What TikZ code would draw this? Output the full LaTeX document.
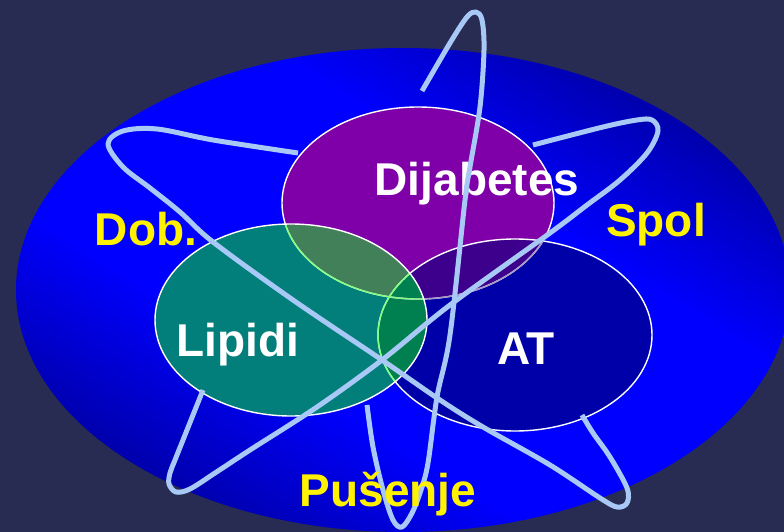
\documentclass[tikz,border=0pt]{standalone}
\usepackage{fontspec}
\setmainfont{Liberation Sans}
\begin{document}
\begin{tikzpicture}[x=1pt,y=-1pt,
  orbit/.style={draw=loopc, line width=5pt, line cap=butt, line join=round},
  whitelab/.style={text=white, font=\bfseries\fontsize{46}{46}\selectfont, anchor=base, inner sep=0pt},
  yellowlab/.style={text=yellow, font=\bfseries\fontsize{46}{46}\selectfont, anchor=base, inner sep=0pt},
  rim/.style={line width=1.4pt}]
\definecolor{bgc}{HTML}{282B52}
\definecolor{brightb}{HTML}{0000FF}
\definecolor{darkb}{HTML}{000090}
\definecolor{dcol}{HTML}{7F00A8}
\definecolor{lcol}{HTML}{027F7A}
\definecolor{acol}{HTML}{0000A8}
\definecolor{dlcol}{HTML}{42805A}
\definecolor{dacol}{HTML}{3D008C}
\definecolor{lacol}{HTML}{008050}
\definecolor{greenrim}{HTML}{80FF80}
\definecolor{greyrim}{HTML}{A898C8}
\definecolor{loopc}{HTML}{A8C8F5}
\pgfdeclareverticalshading{bandshade}{100bp}{color(0bp)=(darkb); color(29bp)=(darkb); color(42bp)=(brightb); color(58bp)=(brightb); color(71bp)=(darkb); color(100bp)=(darkb)}
\useasboundingbox (0,0) rectangle (784,532);
\clip (0,0) rectangle (784,532);
\fill[bgc] (0,0) rectangle (784,532);
% big ellipse
\begin{scope}
  \clip (403,290) ellipse [x radius=387pt, y radius=242pt];
  \shade[shading=bandshade, transform canvas={rotate around={-32:(403,290)}}]
    (-297,-120) rectangle (1103,700);
\end{scope}
% Venn fills
\fill[dcol] (418,203) ellipse [x radius=136pt, y radius=96pt];
\fill[acol] (515,335) ellipse [x radius=137pt, y radius=96pt];
\fill[lcol] (291,320) ellipse [x radius=136pt, y radius=96pt];
\begin{scope}
  \clip (418,203) ellipse [x radius=136pt, y radius=96pt];
  \fill[dacol] (515,335) ellipse [x radius=137pt, y radius=96pt];
  \fill[dlcol] (291,320) ellipse [x radius=136pt, y radius=96pt];
\end{scope}
\begin{scope}
  \clip (515,335) ellipse [x radius=137pt, y radius=96pt];
  \fill[lacol] (291,320) ellipse [x radius=136pt, y radius=96pt];
\end{scope}
% Venn rims
\draw[white, rim] (418,203) ellipse [x radius=136pt, y radius=96pt];
\draw[white, rim] (515,335) ellipse [x radius=137pt, y radius=96pt];
\begin{scope}
  \clip (515,335) ellipse [x radius=137pt, y radius=96pt];
  \draw[greyrim, rim] (418,203) ellipse [x radius=136pt, y radius=96pt];
\end{scope}
\begin{scope}
  \clip (291,320) ellipse [x radius=136pt, y radius=96pt];
  \draw[greenrim, rim] (418,203) ellipse [x radius=136pt, y radius=96pt];
  \draw[greenrim, rim] (515,335) ellipse [x radius=137pt, y radius=96pt];
\end{scope}
\draw[white, rim] (291,320) ellipse [x radius=136pt, y radius=96pt];
% labels under orbits
\node[whitelab] (dij) at (477,195) {Dijabetes};
\node[whitelab] (lip) at (238,356) {Lipidi};
\node[whitelab] (at) at (526,364) {AT};
\node[yellowlab] (dob) at (146,245) {Dob.};
\node[yellowlab] (spol) at (656,236) {Spol};
% orbits
\draw[orbit] plot[smooth, tension=0.55] coordinates {
  (422,91) (450,43) (467,17) (476,12) (482,20) (484,50) (480,107) (470,167)
  (465,200) (450,335) (437,397) (428,463) (421,490) (412,513) (402,527)
  (393,520) (383,490) (373,447) (367,405)};
\draw[orbit] plot[smooth, tension=0.55] coordinates {
  (298,153) (213,140) (157,129) (123,131) (108,144) (123,167) (150,188)
  (180,212) (213,242) (293,300) (382,360) (440,400) (483,427) (550,465)
  (600,498) (617,507) (627,503) (627,488) (610,457) (593,433) (582,415)};
\draw[orbit] plot[smooth, tension=0.55] coordinates {
  (533,145) (603,127) (637,120) (652,120) (658,131) (647,153) (620,180)
  (587,205) (550,233) (450,305) (382,360) (317,407) (250,450) (215,473)
  (190,489) (176,492) (169,484) (170,473) (175,460) (187,430) (203,390)};
\node[yellowlab] (pus) at (388,506) {Pušenje};
\end{tikzpicture}
\end{document}
